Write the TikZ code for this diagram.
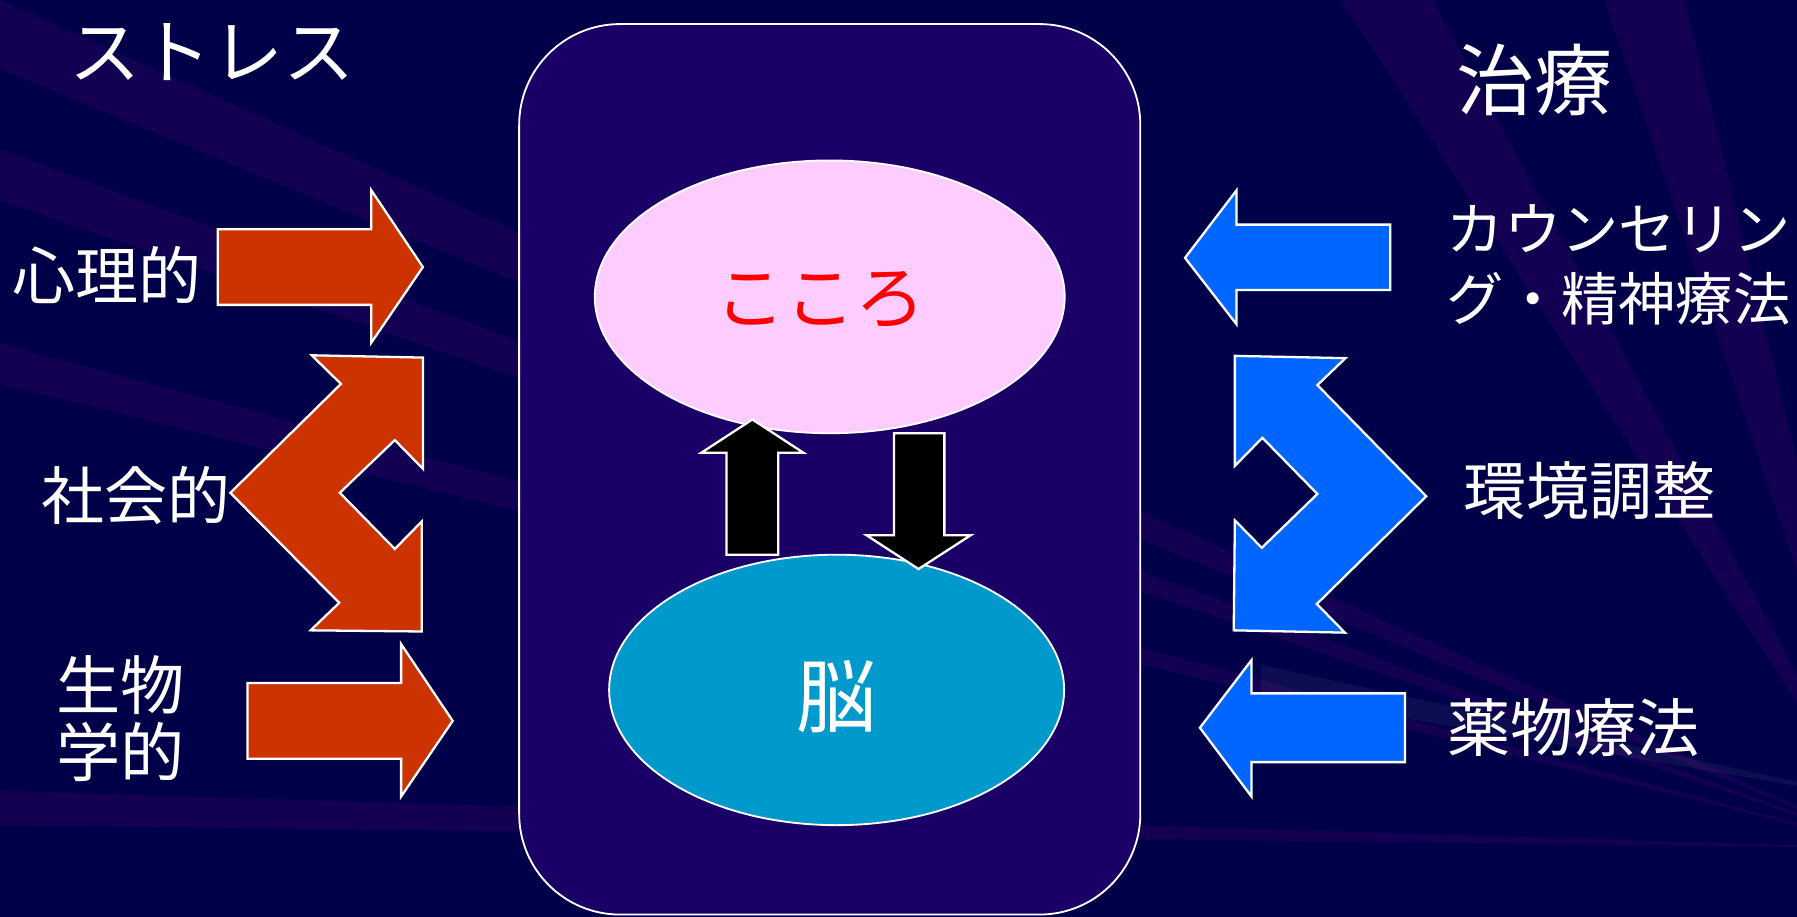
\documentclass[tikz,border=0pt]{standalone}
\usepackage{fontspec}
\setmainfont{Noto Sans CJK JP}
\usetikzlibrary{shapes.geometric}
\definecolor{bgnavy}{RGB}{0,0,72}
\definecolor{raypurple}{RGB}{20,0,82}
\definecolor{boxpurple}{RGB}{26,0,102}
\definecolor{stressred}{RGB}{204,51,0}
\definecolor{careblue}{RGB}{0,102,255}
\definecolor{kokoropink}{RGB}{255,204,255}
\definecolor{noublue}{RGB}{0,153,204}
\begin{document}
\begin{tikzpicture}[x=0.5pt,y=-0.5pt,
	outl/.style={draw=white,line width=1pt},
	txt/.style={text=white,inner sep=0pt}]
		\useasboundingbox(0,0)rectangle(1568,800);
		\fill[bgnavy](0,0)rectangle(1568,800);
		% background rays
		\foreach \a/\b in {0/60,130/175,300/335,690/720}{\fill[raypurple](1650,740)--(0,\a)--(0,\b)--cycle;}
		\foreach \a/\b in {1170/1250,1400/1470}{\fill[raypurple](1650,740)--(\a,0)--(\b,0)--cycle;}
		\fill[white,opacity=.05](1650,700)--(1100,580)--(1100,605)--cycle;
		% centre box
		\node[draw=white,line width=.8pt,fill=boxpurple,rounded corners=44pt,minimum width=271pt,minimum height=388.5pt](mind)at(724,409.5){};
		\node[ellipse,draw=white,line width=.8pt,fill=kokoropink,minimum width=205pt,minimum height=119pt,inner sep=0pt](kokoro)at(724,259){};
		\node[ellipse,draw=white,line width=.8pt,fill=noublue,minimum width=198.5pt,minimum height=118pt,inner sep=0pt](nou)at(730,602){};
		\node[inner sep=0pt,text=red,font=\fontsize{30.5}{36}\selectfont](kokorotxt)at(716,262){こころ};
		\node[txt,font=\fontsize{35}{40}\selectfont](noutxt)at(730,608){脳};
		\filldraw[fill=black,outl](634,484)--(634,395)--(612,395)--(656.5,366)--(701,395)--(679,395)--(679,484)--cycle;
		\filldraw[fill=black,outl](780,378)--(824,378)--(824,467)--(847,467)--(801.5,496.5)--(756,467)--(780,467)--cycle;
		% stress side
		\filldraw[fill=stressred,outl](190,200)--(324,200)--(324,166)--(369,233)--(324,299)--(324,266)--(190,266)--cycle;
		\filldraw[fill=stressred,outl](272,310)--(369,312)--(369,409)--(344.5,384)--(296.5,430)--(344.5,479)--(368,455)--(368,551)--(271,550)--(296,526)--(201,430)--(297.5,335)--cycle;
		\filldraw[fill=stressred,outl](216,596)--(350,596)--(350,562)--(395,629)--(350,695)--(350,662)--(216,662)--cycle;
		\node[txt,font=\fontsize{31}{36}\selectfont](stress)at(185,45){ストレス};
		\node[txt,font=\fontsize{27.5}{33}\selectfont](shinri)at(93,240){心理的};
		\node[txt,font=\fontsize{27.5}{33}\selectfont](shakai)at(119,432){社会的};
		\node[txt,align=left,font=\fontsize{28}{29}\selectfont](seibutsu)at(105,627){生物\\学的};
		% care side
		\filldraw[fill=careblue,outl](1213,196)--(1079,196)--(1079,166)--(1034,225)--(1079,283)--(1079,253)--(1213,253)--cycle;
		\filldraw[fill=careblue,outl](1077.5,310.5)--(1174,312.5)--(1149.5,336)--(1244.5,433)--(1149,527)--(1173.5,552)--(1076.5,550)--(1077.5,454)--(1101,478)--(1149.5,431)--(1101.5,382)--(1077.5,406.5)--cycle;
		\filldraw[fill=careblue,outl](1226,605)--(1092,605)--(1092,576)--(1047,635)--(1092,695)--(1092,665)--(1226,665)--cycle;
		\node[txt,font=\fontsize{34}{40}\selectfont](chiryo)at(1339,70){治療};
		\node[txt,anchor=west,align=left,font=\fontsize{25}{30.5}\selectfont](counsel)at(1262,231.5){カウンセリン\\グ・精神療法};
		\node[txt,font=\fontsize{27.5}{33}\selectfont](kankyo)at(1387,428){環境調整};
		\node[txt,font=\fontsize{27.5}{33}\selectfont](yakubutsu)at(1373,635){薬物療法};
\end{tikzpicture}
\end{document}
